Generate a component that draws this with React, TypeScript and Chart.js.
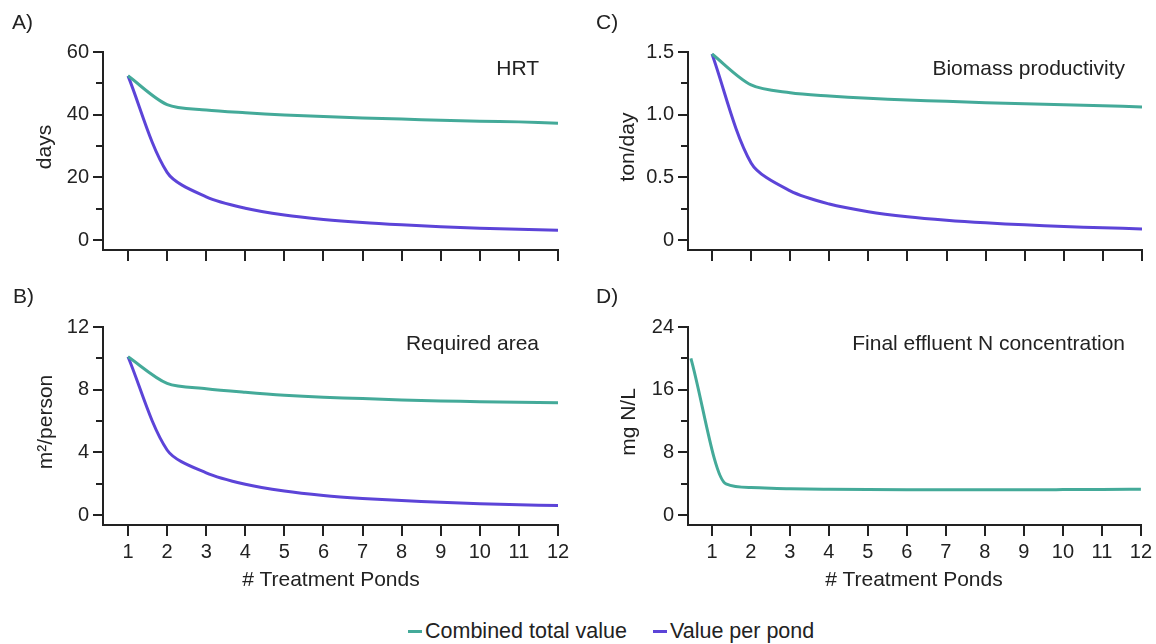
import React, { useEffect, useRef } from 'react';
import { Chart, registerables } from 'chart.js';

Chart.register(...registerables);

// ---------- data ----------
const ponds = [1, 2, 3, 4, 5, 6, 7, 8, 9, 10, 11, 12];

const hrtTotal = [52.4, 43.2, 41.5, 40.6, 39.9, 39.4, 38.9, 38.6, 38.2, 37.9, 37.7, 37.3];
const hrtPerPond = [52.4, 21.6, 13.8, 10.15, 7.98, 6.57, 5.56, 4.83, 4.24, 3.79, 3.43, 3.11];

const areaTotal = [10.1, 8.4, 8.06, 7.83, 7.64, 7.51, 7.43, 7.34, 7.28, 7.23, 7.19, 7.17];
const areaPerPond = [10.1, 4.15, 2.69, 1.96, 1.53, 1.25, 1.06, 0.92, 0.81, 0.72, 0.65, 0.6];

const biomassTotal = [1.484, 1.237, 1.175, 1.149, 1.13, 1.117, 1.107, 1.096, 1.088, 1.08, 1.072, 1.062];
const biomassPerPond = [1.484, 0.615, 0.392, 0.287, 0.226, 0.186, 0.158, 0.137, 0.121, 0.108, 0.0975, 0.0885];

const nitrogenPonds = [0.46, 1.36, 2, 3, 4, 5, 6, 7, 8, 9, 10, 11, 12];
const nitrogenTotal = [20.0, 3.96, 3.5, 3.35, 3.28, 3.24, 3.23, 3.23, 3.23, 3.23, 3.24, 3.26, 3.3];

const seriesNames = ['Combined total value', 'Value per pond'];
const seriesColors = ['#44AA99', '#5c44d8'];

const hrtTicks = [0, 20, 40, 60];
const hrtTickLabels = ['0', '20', '40', '60'];
const hrtMinor = [10, 30, 50];

const areaTicks = [0, 4, 8, 12];
const areaTickLabels = ['0', '4', '8', '12'];
const areaMinor = [2, 6, 10];

const biomassTicks = [0, 0.5, 1.0, 1.5];
const biomassTickLabels = ['0', '0.5', '1.0', '1.5'];
const biomassMinor = [0.25, 0.75, 1.25];

const nitrogenTicks = [0, 8, 16, 24];
const nitrogenTickLabels = ['0', '8', '16', '24'];
const nitrogenMinor = [4, 12, 20];

const xTitle = '# Treatment Ponds';

// ---------- styling ----------
const FONT = '"Liberation Sans", Arial, Helvetica, sans-serif';
const INK = '#222222';

type Box = { left: number; top: number; width: number; height: number };
type Area = { l: number; t: number; r: number; b: number };

type PanelDef = {
  id: string;
  box: Box;
  area: Area;
  xMin: number;
  yMin: number;
  yMax: number;
  majors: number[];
  majorLabels: string[];
  minors: number[];
  showX: boolean;
  monotone: boolean;
  series: { xs: number[]; ys: number[]; name: string; color: string }[];
};

const panels: PanelDef[] = [
  {
    id: 'A',
    box: { left: 0, top: 30, width: 578, height: 240 },
    area: { l: 103, t: 52, r: 558, b: 250 },
    xMin: 0.36,
    yMin: -3.19,
    yMax: 60,
    majors: hrtTicks,
    majorLabels: hrtTickLabels,
    minors: hrtMinor,
    showX: false,
    monotone: false,
    series: [
      { xs: ponds, ys: hrtTotal, name: seriesNames[0], color: seriesColors[0] },
      { xs: ponds, ys: hrtPerPond, name: seriesNames[1], color: seriesColors[1] },
    ],
  },
  {
    id: 'C',
    box: { left: 578, top: 30, width: 578, height: 240 },
    area: { l: 688, t: 52, r: 1142, b: 250 },
    xMin: 0.386,
    yMin: -0.0798,
    yMax: 1.5,
    majors: biomassTicks,
    majorLabels: biomassTickLabels,
    minors: biomassMinor,
    showX: false,
    monotone: false,
    series: [
      { xs: ponds, ys: biomassTotal, name: seriesNames[0], color: seriesColors[0] },
      { xs: ponds, ys: biomassPerPond, name: seriesNames[1], color: seriesColors[1] },
    ],
  },
  {
    id: 'B',
    box: { left: 0, top: 300, width: 578, height: 300 },
    area: { l: 103, t: 327, r: 558, b: 525 },
    xMin: 0.36,
    yMin: -0.638,
    yMax: 12,
    majors: areaTicks,
    majorLabels: areaTickLabels,
    minors: areaMinor,
    showX: true,
    monotone: false,
    series: [
      { xs: ponds, ys: areaTotal, name: seriesNames[0], color: seriesColors[0] },
      { xs: ponds, ys: areaPerPond, name: seriesNames[1], color: seriesColors[1] },
    ],
  },
  {
    id: 'D',
    box: { left: 578, top: 300, width: 578, height: 300 },
    area: { l: 688, t: 327, r: 1142, b: 525 },
    xMin: 0.386,
    yMin: -1.277,
    yMax: 24,
    majors: nitrogenTicks,
    majorLabels: nitrogenTickLabels,
    minors: nitrogenMinor,
    showX: true,
    monotone: true,
    series: [{ xs: nitrogenPonds, ys: nitrogenTotal, name: seriesNames[0], color: seriesColors[0] }],
  },
];

const minorTickPlugin = {
  id: 'minorTicks',
  afterDraw(chart: any, _args: any, opts: any) {
    const y = chart.scales.y;
    const ctx = chart.ctx;
    const left = chart.chartArea.left;
    ctx.save();
    ctx.strokeStyle = INK;
    ctx.lineWidth = 2;
    for (const v of opts.values || []) {
      const py = Math.round(y.getPixelForValue(v));
      ctx.beginPath();
      ctx.moveTo(left - 7, py);
      ctx.lineTo(left, py);
      ctx.stroke();
    }
    ctx.restore();
  },
};

function Panel({ def }: { def: PanelDef }) {
  const ref = useRef<HTMLCanvasElement | null>(null);
  useEffect(() => {
    if (!ref.current) return;
    const { box, area } = def;
    const chart = new Chart(ref.current, {
      type: 'line',
      data: {
        datasets: def.series.map((s) => ({
          label: s.name,
          data: s.xs.map((x, i) => ({ x, y: s.ys[i] })),
          borderColor: s.color,
          backgroundColor: s.color,
          borderWidth: 3,
          pointRadius: 0,
          fill: false,
          tension: 0.3,
          cubicInterpolationMode: def.monotone ? 'monotone' : 'default',
        })),
      },
      options: {
        responsive: false,
        animation: false,
        devicePixelRatio: 1,
        layout: {
          padding: {
            left: 0,
            top: area.t - box.top,
            right: box.left + box.width - area.r,
            bottom: 0,
          },
        },
        plugins: {
          legend: { display: false },
          tooltip: { enabled: false },
          minorTicks: { values: def.minors },
        } as any,
        scales: {
          x: {
            type: 'linear',
            min: def.xMin,
            max: 12,
            afterBuildTicks: (s: any) => {
              s.ticks = ponds.map((v) => ({ value: v }));
            },
            afterFit: (s: any) => {
              s.height = box.top + box.height - area.b;
            },
            grid: {
              display: true,
              drawOnChartArea: false,
              drawTicks: true,
              tickLength: 11,
              tickWidth: 2,
              tickColor: INK,
              lineWidth: 2,
              color: INK,
            },
            border: { display: true, color: INK, width: 2 },
            ticks: {
              display: def.showX,
              autoSkip: false,
              maxRotation: 0,
              padding: 4,
              color: INK,
              font: { family: FONT, size: 20 },
              callback: (v: any) => String(v),
            },
          },
          y: {
            type: 'linear',
            min: def.yMin,
            max: def.yMax,
            afterBuildTicks: (s: any) => {
              s.ticks = def.majors.map((v) => ({ value: v }));
            },
            afterFit: (s: any) => {
              s.width = area.l - box.left;
            },
            grid: {
              display: true,
              drawOnChartArea: false,
              drawTicks: true,
              tickLength: 10,
              tickWidth: 2,
              tickColor: INK,
              lineWidth: 2,
              color: INK,
            },
            border: { display: true, color: INK, width: 2 },
            ticks: {
              padding: 4,
              color: INK,
              font: { family: FONT, size: 20 },
              callback: (_v: any, i: number) => def.majorLabels[i],
            },
          },
        },
      } as any,
      plugins: [minorTickPlugin],
    });
    return () => chart.destroy();
  }, [def]);

  return (
    <canvas
      ref={ref}
      width={def.box.width}
      height={def.box.height}
      style={{
        position: 'absolute',
        left: def.box.left,
        top: def.box.top,
        width: def.box.width,
        height: def.box.height,
      }}
    />
  );
}

const textBase: React.CSSProperties = {
  position: 'absolute',
  whiteSpace: 'nowrap',
  lineHeight: 1,
  fontFamily: FONT,
  color: INK,
};

function Label({ text, x, y, size = 21, anchor = 'left', rotate = false }: {
  text: string; x: number; y: number; size?: number; anchor?: 'left' | 'right' | 'center'; rotate?: boolean;
}) {
  let transform = 'translateY(-50%)';
  const style: React.CSSProperties = { ...textBase, fontSize: size, top: y };
  if (rotate) {
    style.left = x;
    transform = 'translate(-50%, -50%) rotate(-90deg)';
  } else if (anchor === 'right') {
    style.right = 1156 - x;
  } else if (anchor === 'center') {
    style.left = x;
    transform = 'translate(-50%, -50%)';
  } else {
    style.left = x;
  }
  style.transform = transform;
  return <div style={style}>{text}</div>;
}

export default function App() {
  return (
    <div
      style={{
        position: 'absolute',
        left: 0,
        top: 0,
        width: 1156,
        height: 644,
        background: '#ffffff',
        overflow: 'hidden',
      }}
    >
      {panels.map((p) => (
        <Panel key={p.id} def={p} />
      ))}

      <Label text="A)" x={12} y={21} />
      <Label text="B)" x={13} y={295} />
      <Label text="C)" x={596} y={21} />
      <Label text="D)" x={596} y={295} />

      <Label text="HRT" x={539} y={67} anchor="right" />
      <Label text="Biomass productivity" x={1125} y={67} anchor="right" />
      <Label text="Required area" x={539} y={342} anchor="right" />
      <Label text="Final effluent N concentration" x={1125} y={342} anchor="right" />

      <Label text="days" x={43} y={147} rotate />
      <Label text="ton/day" x={626} y={147} rotate />
      <Label text="m²/person" x={44} y={422} rotate />
      <Label text="mg N/L" x={627} y={422} rotate />

      <Label text={xTitle} x={331} y={578} anchor="center" />
      <Label text={xTitle} x={914} y={578} anchor="center" />

      <div style={{ position: 'absolute', left: 408, top: 630, width: 14, height: 3, background: seriesColors[0] }} />
      <Label text={seriesNames[0]} x={425} y={632} size={21.5} />
      <div style={{ position: 'absolute', left: 653, top: 630, width: 14, height: 3, background: seriesColors[1] }} />
      <Label text={seriesNames[1]} x={670} y={632} size={21.5} />
    </div>
  );
}
